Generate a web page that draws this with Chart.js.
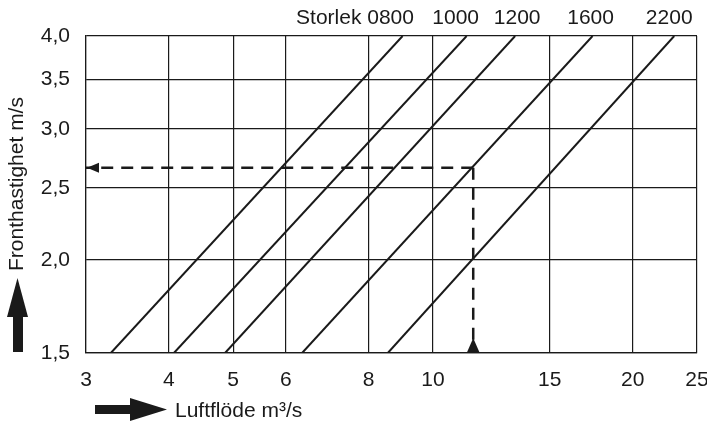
<!DOCTYPE html>
<html>
<head>
<meta charset="utf-8">
<script src="https://cdn.jsdelivr.net/npm/chart.js@4"></script>
<style>
  html, body { margin: 0; padding: 0; background: #fff; }
  #wrap { width: 707px; height: 422px; }
</style>
</head>
<body>
<div id="wrap"><canvas id="chart"></canvas></div>
<script>
// Storlek (unit size) and airflow where each line meets 1,5 and 4,0 m/s
var sizes = ['0800', '1000', '1200', '1600', '2200'];
var flowAtMin = [3.27, 4.07, 4.86, 6.35, 8.55];
var flowAtMax = [9.0, 11.24, 13.3, 17.4, 23.1];
var speedRange = [1.5, 4.0];
var xTicks = [3, 4, 5, 6, 8, 10, 15, 20, 25];
var yTicks = [1.5, 2.0, 2.5, 3.0, 3.5, 4.0];
// worked example (dashed lines)
var exampleFlow = 11.5;
var exampleSpeed = 2.66;

var FONT = '"Liberation Sans", Arial, sans-serif';
var INK = '#1a1a1a';

var datasets = sizes.map((s, i) => ({
  label: s,
  data: [{ x: flowAtMin[i], y: speedRange[0] }, { x: flowAtMax[i], y: speedRange[1] }],
  borderColor: INK,
  borderWidth: 2,
  pointRadius: 0
}));

datasets.push({
  label: 'speed',
  data: [{ x: exampleFlow, y: exampleSpeed }, { x: xTicks[0], y: exampleSpeed }],
  borderColor: INK,
  borderWidth: 2.5,
  borderDash: [12, 8],
  pointRadius: 0
});
datasets.push({
  label: 'flow',
  data: [{ x: exampleFlow, y: exampleSpeed }, { x: exampleFlow, y: speedRange[0] }],
  borderColor: INK,
  borderWidth: 2.5,
  borderDash: [12, 8],
  pointRadius: 0
});

function tri(ctx, pts) {
  ctx.beginPath();
  ctx.moveTo(pts[0], pts[1]);
  for (let i = 2; i < pts.length; i += 2) ctx.lineTo(pts[i], pts[i + 1]);
  ctx.closePath();
  ctx.fill();
}

var decorations = {
  id: 'decorations',
  afterDraw(chart) {
    const ctx = chart.ctx;
    const xs = chart.scales.x, ys = chart.scales.y;
    ctx.save();
    ctx.fillStyle = INK;

    // arrow heads on the dashed example lines
    const ax = xs.getPixelForValue(xTicks[0]);
    const ay = ys.getPixelForValue(exampleSpeed);
    tri(ctx, [ax + 1, ay, ax + 13, ay - 5, ax + 13, ay + 5]);
    const bx = xs.getPixelForValue(exampleFlow);
    const by = ys.getPixelForValue(speedRange[0]);
    tri(ctx, [bx, by - 15, bx - 6.5, by, bx + 6.5, by]);

    // size labels above the line ends (small nudges so they don't collide)
    const shift = [-12, -11, 2, -2, -5];
    ctx.font = '21px ' + FONT;
    ctx.textBaseline = 'alphabetic';
    sizes.forEach((s, i) => {
      const px = xs.getPixelForValue(flowAtMax[i]) + shift[i];
      ctx.textAlign = 'center';
      ctx.fillText(s, px, 24);
      if (i === 0) {
        ctx.textAlign = 'right';
        ctx.fillText('Storlek ', px - ctx.measureText(s).width / 2, 24);
      }
    });

    // axis titles
    ctx.textAlign = 'left';
    ctx.fillText('Luftflöde m³/s', 175, 417);
    ctx.save();
    ctx.translate(23, 184);
    ctx.rotate(-Math.PI / 2);
    ctx.textAlign = 'center';
    ctx.fillText('Fronthastighet m/s', 0, 0);
    ctx.restore();

    // big arrows next to the titles
    ctx.fillRect(13, 316, 10, 36);
    tri(ctx, [17.5, 278, 7, 317, 28, 317]);
    ctx.fillRect(95, 405, 37, 9);
    tri(ctx, [167, 409.5, 130, 398, 130, 421]);
    ctx.restore();
  }
};

new Chart(document.getElementById('chart'), {
  type: 'line',
  data: { datasets: datasets },
  options: {
    responsive: true,
    maintainAspectRatio: false,
    animation: false,
    layout: { padding: { top: 36, right: 10, left: 0, bottom: 0 } },
    plugins: { legend: { display: false }, tooltip: { enabled: false } },
    scales: {
      x: {
        type: 'logarithmic',
        min: xTicks[0],
        max: xTicks[xTicks.length - 1],
        afterBuildTicks: s => { s.ticks = xTicks.map(v => ({ value: v })); },
        afterFit: s => { s.height = 69; s.paddingLeft = 0; s.paddingRight = 0; },
        grid: { color: INK, lineWidth: 1.2, drawTicks: false },
        border: { color: INK, width: 1.2 },
        ticks: {
          autoSkip: false,
          maxRotation: 0,
          padding: 15,
          color: INK,
          font: { family: FONT, size: 21 },
          callback: v => String(v)
        }
      },
      y: {
        type: 'logarithmic',
        min: speedRange[0],
        max: speedRange[1],
        afterBuildTicks: s => { s.ticks = yTicks.map(v => ({ value: v })); },
        afterFit: s => { s.width = 86; s.paddingTop = 0; s.paddingBottom = 0; },
        grid: { color: INK, lineWidth: 1.2, drawTicks: false },
        border: { color: INK, width: 1.2 },
        ticks: {
          autoSkip: false,
          padding: 16,
          color: INK,
          font: { family: FONT, size: 21 },
          callback: v => v.toFixed(1).replace('.', ',')
        }
      }
    }
  },
  plugins: [decorations]
});
</script>
</body>
</html>
